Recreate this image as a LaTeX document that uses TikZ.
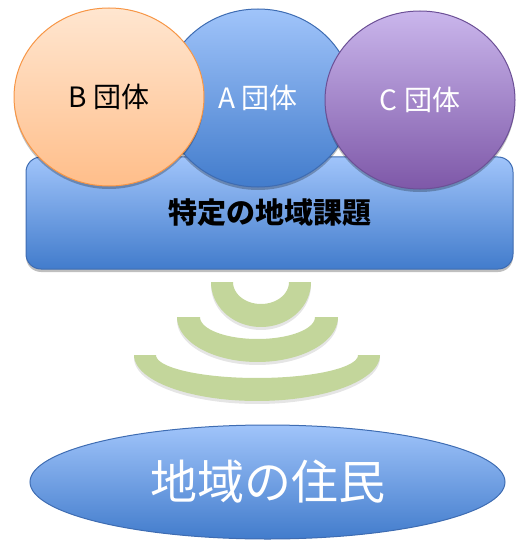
\documentclass[tikz,border=0pt]{standalone}
\usepackage{fontspec}
\newfontfamily\cjk{Noto Sans CJK JP}
\usetikzlibrary{shapes.geometric,shadows}
\definecolor{bluetop}{RGB}{160,196,250}
\definecolor{bluebot}{RGB}{66,124,204}
\definecolor{blueline}{RGB}{62,108,178}
\definecolor{orgtop}{RGB}{255,230,208}
\definecolor{orgbot}{RGB}{255,190,138}
\definecolor{orgline}{RGB}{247,150,70}
\definecolor{purtop}{RGB}{202,182,236}
\definecolor{purbot}{RGB}{126,88,168}
\definecolor{purline}{RGB}{108,80,150}
\definecolor{ringgreen}{RGB}{195,214,155}
\begin{document}
\begin{tikzpicture}[x=1pt,y=-1pt,
  softshadow/.style={drop shadow={opacity=0.25,shadow xshift=0pt,shadow yshift=-3pt,fill=black}},
  grp/.style={ellipse,inner sep=0pt,minimum width=190pt,minimum height=178pt,line width=1pt,
    softshadow,font=\cjk\fontsize{28}{30}\selectfont},
  bluefill/.style={top color=bluetop,bottom color=bluebot,draw=blueline},
  ring/.style={fill=ringgreen},
  ringshadow/.style={fill=black,opacity=0.10}
]
\useasboundingbox (0,0) rectangle (528,540);

% task box
\node[rectangle,rounded corners=15pt,minimum width=487pt,minimum height=112pt,line width=1pt,
  bluefill,softshadow,font=\cjk\bfseries\fontsize{29}{32}\selectfont,text=black]
  (issue) at (269.5,213) {\raisebox{-8pt}{特定の地域課題}};

% groups
\node[grp,bluefill,text=white] (A) at (258,98) {A 団体};
\node[grp,top color=orgtop,bottom color=orgbot,draw=orgline,text=black] (B) at (109,97) {B 団体};
\node[grp,top color=purtop,bottom color=purbot,draw=purline,text=white] (C) at (420,100) {C 団体};

% signal rings
\foreach \cx/\cy/\Rx/\Ry/\rx/\ry in {261/282/50/45/28/22, 257.5/317/80.5/45/57.5/22, 257/355/123/46/101/23}{
  \fill[ringshadow] plot[domain=180:0,samples=60] ({\cx+\Rx*cos(\x)},{\cy+3+\Ry*sin(\x)})
     -- plot[domain=0:180,samples=60] ({\cx+\rx*cos(\x)},{\cy+3+\ry*sin(\x)}) -- cycle;
  \fill[ring] plot[domain=180:0,samples=60] ({\cx+\Rx*cos(\x)},{\cy+\Ry*sin(\x)})
     -- plot[domain=0:180,samples=60] ({\cx+\rx*cos(\x)},{\cy+\ry*sin(\x)}) -- cycle;
}

% residents
\node[ellipse,inner sep=0pt,minimum width=475pt,minimum height=114pt,line width=1pt,bluefill,
  text=white,font=\cjk\fontsize{47}{50}\selectfont] (res) at (267.5,482) {地域の住民};
\end{tikzpicture}
\end{document}
